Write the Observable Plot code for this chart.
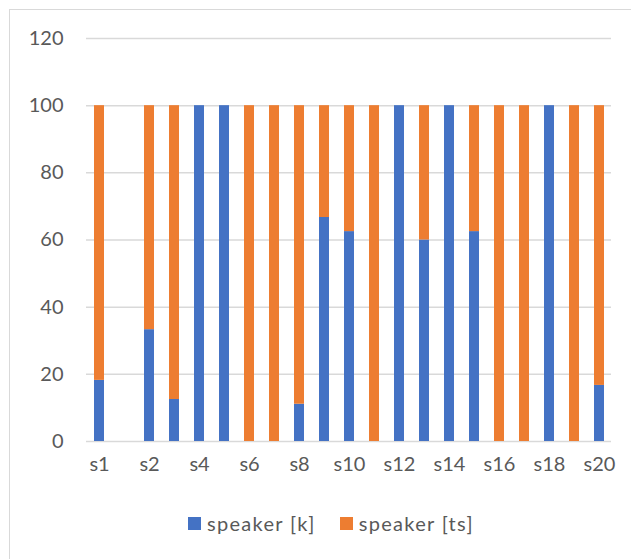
<!DOCTYPE html>
<html>
<head>
<meta charset="utf-8">
<script src="https://cdn.jsdelivr.net/npm/d3@7"></script>
<script src="https://cdn.jsdelivr.net/npm/@observablehq/plot@0.6"></script>
<style>
  html, body { margin: 0; padding: 0; background: #fff; }
  #frame {
    position: relative; width: 631px; height: 559px; overflow: hidden;
    font-family: Lato, "Open Sans", sans-serif; color: #595959;
  }
  #border {
    position: absolute; left: 9px; top: 9px; width: 700px; height: 700px;
    border: 1.5px solid #d9d9d9; box-sizing: border-box;
  }
  #chart { position: absolute; left: 0; top: 0; }
  #legend {
    position: absolute; left: 188px; top: 511px;
    display: flex; align-items: center; font-size: 20px; letter-spacing: 1.3px;
  }
  .item { display: flex; align-items: center; margin-right: 24px; }
  .swatch { width: 13px; height: 13px; margin-right: 6px; }
</style>
</head>
<body>
<div id="frame">
  <div id="border"></div>
  <div id="chart"></div>
  <div id="legend"></div>
</div>
<script>
// Speakers along the x axis (the second slot has no data and no label)
const categories = ["s1", "", "s2", "s3", "s4", "s5", "s6", "s7", "s8", "s9", "s10",
  "s11", "s12", "s13", "s14", "s15", "s16", "s17", "s18", "s19", "s20"];
// Share of each variant per speaker, in percent
const speakerK  = [18.2, null, 33.3, 12.5, 100, 100, 0, 0, 11.1, 66.7, 62.5,
  0, 100, 60, 100, 62.5, 0, 0, 100, 0, 16.7];
const speakerTs = [81.8, null, 66.7, 87.5, 0, 0, 100, 100, 88.9, 33.3, 37.5,
  100, 0, 40, 0, 37.5, 100, 100, 0, 100, 83.3];
const seriesNames = ["speaker [k]", "speaker [ts]"];
const seriesColors = ["#4472C4", "#ED7D31"];
const yTicks = [0, 20, 40, 60, 80, 100, 120];
const xTickLabels = ["s1", "s2", "s4", "s6", "s8", "s10", "s12", "s14", "s16", "s18", "s20"];

const rows = [];
categories.forEach((c, i) => {
  if (speakerK[i] != null) rows.push({speaker: c, series: seriesNames[0], value: speakerK[i]});
  if (speakerTs[i] != null) rows.push({speaker: c, series: seriesNames[1], value: speakerTs[i]});
});
const shown = new Set(xTickLabels);

const chart = Plot.plot({
  width: 631,
  height: 490,
  marginTop: 38,
  marginBottom: 49,
  marginLeft: 86,
  marginRight: 20,
  style: {fontFamily: "Lato, 'Open Sans', sans-serif", fontSize: "20px", color: "#595959", background: "transparent"},
  x: {domain: categories, paddingInner: 0.6, paddingOuter: 0.3, label: null},
  y: {domain: [0, 120], label: null},
  color: {domain: seriesNames, range: seriesColors},
  marks: [
    Plot.ruleY(yTicks, {stroke: "#d9d9d9", strokeWidth: 1.5}),
    Plot.barY(rows, Plot.stackY({x: "speaker", y: "value", fill: "series", order: seriesNames})),
    Plot.axisY(yTicks, {tickSize: 0, tickPadding: 23, fill: "#595959", fontSize: 20, letterSpacing: 1.3}),
    Plot.axisX({tickSize: 0, tickPadding: 15, tickFormat: d => shown.has(d) ? d : "", fill: "#595959", fontSize: 20, letterSpacing: 1.3})
  ]
});
document.getElementById("chart").appendChild(chart);

const legend = document.getElementById("legend");
seriesNames.forEach((name, i) => {
  const item = document.createElement("div");
  item.className = "item";
  const sw = document.createElement("div");
  sw.className = "swatch";
  sw.style.background = seriesColors[i];
  const label = document.createElement("span");
  label.textContent = name;
  item.appendChild(sw);
  item.appendChild(label);
  legend.appendChild(item);
});
</script>
</body>
</html>
